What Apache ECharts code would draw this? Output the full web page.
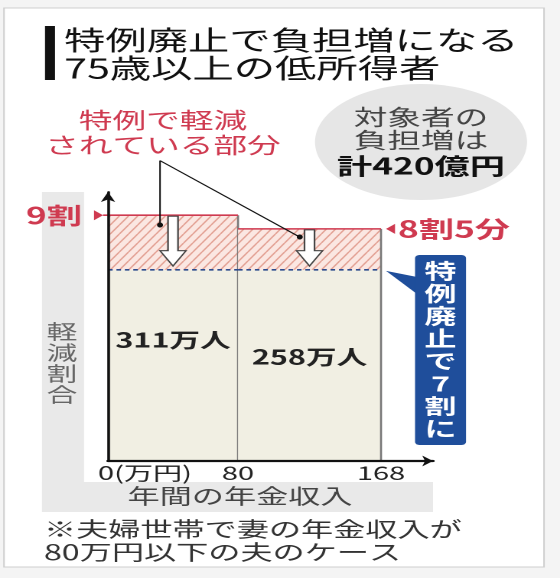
<!DOCTYPE html>
<html><head><meta charset="utf-8">
<script src="https://cdn.jsdelivr.net/npm/echarts@6/dist/echarts.min.js"></script>
<style>
html,body{margin:0;padding:0;background:#f4f4f4;overflow:hidden;}
#wrap{width:560px;height:578px;overflow:hidden;position:relative;}
#chart{width:366px;height:578px;transform:scaleX(1.5301);transform-origin:0 0;}
</style></head><body><div id="wrap"><div id="chart"></div></div>
<script>
// ---------------- data ----------------
const incomeEdges   = [0, 80, 168];          // 年間の年金収入 (万円)
const ratioBefore   = [0.9, 0.85];           // 特例による軽減割合
const ratioAfter    = [0.7, 0.7];            // 特例廃止後
const peopleLabels  = ['311万人', '258万人'];
const ratioLabels   = ['9割', '8割5分'];
const xTickValues   = [0, 80, 168];
const xTickLabels   = ['0(万円)', '80', '168'];
const titleLines    = ['特例廃止で負担増になる', '75歳以上の低所得者'];
const circleLines   = ['対象者の', '負担増は', '計420億円'];
const noteLines     = ['特例で軽減', 'されている部分'];
const calloutText   = '特例廃止で7割に';
const yAxisName     = '軽減割合';
const xAxisName     = '年間の年金収入';
const footnoteLines = ['※夫婦世帯で妻の年金収入が', '80万円以下の夫のケース'];

// ---------------- layout / style ----------------
const S = 560 / 366;              // horizontal stretch applied by CSS
const X = v => v / S;             // reference px -> unstretched px
const FF = '"Noto Sans CJK JP", "Noto Sans CJK SC", sans-serif';
const RED = '#cf3a50';
const BLUE = '#1f4e9b';
const LABEL_Y = [0.443, 0.381];

function makeHatch() {
  const w = 12, h = 18;
  const c = document.createElement('canvas');
  c.width = w; c.height = h;
  const g = c.getContext('2d');
  g.fillStyle = '#fbe7e2'; g.fillRect(0, 0, w, h);
  g.strokeStyle = '#e3a194'; g.lineWidth = 2.2;
  for (let k = 0; k <= 2; k++) {
    g.beginPath(); g.moveTo(w * k, 0); g.lineTo(w * k - w, h); g.stroke();
  }
  return c;
}
const hatch = makeHatch();

function txt(x, y, text, font, fill, align, extra) {
  return {
    type: 'text', x: x, y: y,
    style: Object.assign({
      text: text, font: font, fill: fill,
      align: align || 'center', textAlign: align || 'center',
      verticalAlign: 'middle', textVerticalAlign: 'middle'
    }, extra || {})
  };
}

const barData = incomeEdges.slice(0, -1).map((x0, i) =>
  [x0, incomeEdges[i + 1], ratioBefore[i], ratioAfter[i]]);

function renderBar(params, api) {
  const i = params.dataIndex;
  const x0 = api.value(0), x1 = api.value(1), r = api.value(2), r2 = api.value(3);
  const pBL = api.coord([x0, 0]);
  const pTR = api.coord([x1, r]);
  const pM = api.coord([x1, r2]);
  const left = pBL[0], right = pTR[0];
  const ch = [];
  ch.push({ type: 'rect', shape: { x: left, y: pM[1], width: right - left, height: pBL[1] - pM[1] },
            style: { fill: '#f1efe3' } });
  ch.push({ type: 'rect', shape: { x: left, y: pTR[1], width: right - left, height: pM[1] - pTR[1] },
            style: { fill: { image: hatch, repeat: 'repeat', scaleX: 0.5, scaleY: 0.5 } } });
  ch.push({ type: 'line', shape: { x1: right, y1: pTR[1], x2: right, y2: pBL[1] },
            style: { stroke: '#777', lineWidth: 1.3 } });
  ch.push({ type: 'line', shape: { x1: left, y1: pM[1], x2: right, y2: pM[1] },
            style: { stroke: '#2a4a8c', lineWidth: 1.6, lineDash: [3, 2.5] } });
  const redStart = i === 0 ? left - X(5) : left;
  ch.push({ type: 'line', shape: { x1: redStart, y1: pTR[1], x2: right, y2: pTR[1] },
            style: { stroke: RED, lineWidth: 1.6 } });
  // hollow down arrow
  const xc = api.coord([(x0 + x1) / 2, 0])[0];
  const yT = pTR[1] + 1;
  const yB = api.coord([0, 0.77])[1];
  const yP = api.coord([0, 0.714])[1];
  const hw = X(5), hh = X(13);
  ch.push({ type: 'polygon', shape: { points: [
      [xc - hw, yT], [xc + hw, yT], [xc + hw, yB], [xc + hh, yB], [xc, yP], [xc - hh, yB], [xc - hw, yB]] },
    style: { fill: '#fff', stroke: '#444', lineWidth: 1.1 } });
  // people label
  const pl = api.coord([(x0 + x1) / 2, LABEL_Y[i]]);
  ch.push(txt(pl[0], pl[1], peopleLabels[i], 'bold 20px ' + FF, '#222'));
  // ratio label
  const y = pTR[1];
  if (i === 0) {
    ch.push({ type: 'polygon', shape: { points: [[left - X(5), y], [left - X(14), y - 5], [left - X(14), y + 5]] },
              style: { fill: RED } });
    ch.push(txt(left - X(26), y, ratioLabels[i], 'bold 23px ' + FF, RED, 'right'));
  } else {
    ch.push({ type: 'polygon', shape: { points: [[right + X(5), y], [right + X(14), y - 5], [right + X(14), y + 5]] },
              style: { fill: RED } });
    ch.push(txt(right + X(17), y, ratioLabels[i], 'bold 23px ' + FF, RED, 'left'));
  }
  return { type: 'group', children: ch };
}

function renderOverlay(params, api) {
  const ch = [];
  // tick labels
  xTickValues.forEach((v, k) => {
    const p = api.coord([v, 0]);
    if (k === 0) ch.push(txt(p[0] - X(10), p[1] + 12, xTickLabels[k], '19px ' + FF, '#222', 'left'));
    else ch.push(txt(p[0], p[1] + 12, xTickLabels[k], '19px ' + FF, '#222', 'center'));
  });
  // leader lines from the note to the hatched areas
  const s0 = api.coord([32, 1.10]);
  const e1 = api.coord([32, 0.864]);
  const e2 = api.coord([118, 0.82]);
  [e1, e2].forEach(e => {
    ch.push({ type: 'line', shape: { x1: s0[0], y1: s0[1], x2: e[0], y2: e[1] },
              style: { stroke: '#111', lineWidth: 1 } });
    ch.push({ type: 'ellipse', shape: { cx: e[0], cy: e[1], rx: X(3), ry: 2.5 }, style: { fill: '#111' } });
  });
  // callout pointer + box
  const tip = api.coord([incomeEdges[incomeEdges.length - 1], ratioAfter[ratioAfter.length - 1]]);
  ch.push({ type: 'polygon', shape: { points: [[tip[0] + X(5), tip[1] + 1], [X(417), 277], [X(417), 294]] },
            style: { fill: BLUE } });
  ch.push({ type: 'rect', shape: { x: X(415), y: 255, width: X(51), height: 190, r: 3 },
            style: { fill: BLUE } });
  ch.push(txt(X(440.5), 350, calloutText.split('').join('\n'), 'bold 21px ' + FF, '#fff', 'center',
              { lineHeight: 22.5 }));
  return { type: 'group', children: ch };
}

const chart = echarts.init(document.getElementById('chart'), null, { devicePixelRatio: 2 });
chart.setOption({
  backgroundColor: '#f4f4f4',
  animation: false,
  grid: { left: X(108), right: 366 - X(433), top: 192, bottom: 117 },
  xAxis: {
    type: 'value', min: 0, max: 200, z: 6,
    axisLine: { show: true, symbol: ['none', 'arrow'], symbolSize: [8, 7], lineStyle: { color: '#111', width: 2.2 } },
    axisTick: { show: false }, axisLabel: { show: false }, splitLine: { show: false }
  },
  yAxis: {
    type: 'value', min: 0, max: 0.985, z: 6,
    axisLine: { show: true, symbol: ['none', 'arrow'], symbolSize: [7, 10], lineStyle: { color: '#111', width: 1.8 } },
    axisTick: { show: false }, axisLabel: { show: false }, splitLine: { show: false }
  },
  graphic: { elements: [
    { type: 'rect', z: -20, shape: { x: X(4), y: 8, width: X(540), height: 559 }, style: { fill: '#fff', stroke: '#cfcfcf', lineWidth: 1 } },
    { type: 'rect', z: -19, shape: { x: X(42), y: 192, width: X(42), height: 320 }, style: { fill: '#e9e9e9' } },
    { type: 'rect', z: -19, shape: { x: X(42), y: 482, width: X(391), height: 30 }, style: { fill: '#e9e9e9' } },
    { type: 'ellipse', z: -18, shape: { cx: X(421), cy: 142, rx: X(106), ry: 58 }, style: { fill: '#e6e6e6' } },
    { type: 'rect', shape: { x: X(45), y: 26, width: X(10), height: 54 }, style: { fill: '#111' } },
    txt(X(64), 40, titleLines[0], '27px ' + FF, '#111', 'left'),
    txt(X(64), 68, titleLines[1], '27px ' + FF, '#111', 'left'),
    txt(X(421), 117, circleLines[0], '22px ' + FF, '#444'),
    txt(X(421), 140, circleLines[1], '22px ' + FF, '#444'),
    txt(X(421), 166, circleLines[2], 'bold 23px ' + FF, '#111'),
    txt(X(163), 120, noteLines[0], '22px ' + FF, RED),
    txt(X(163), 145, noteLines[1], '22px ' + FF, RED),
    txt(X(62), 363, yAxisName.split('').join('\n'), '20px ' + FF, '#666', 'center', { lineHeight: 21 }),
    txt(X(240), 496, xAxisName, '21px ' + FF, '#444'),
    txt(X(44), 529, footnoteLines[0], '21px ' + FF, '#333', 'left'),
    txt(X(44), 552, footnoteLines[1], '21px ' + FF, '#333', 'left')
  ] },
  series: [
    { type: 'custom', coordinateSystem: 'cartesian2d', clip: false, z: 3,
      encode: { x: [0, 1], y: [2, 3] }, data: barData, renderItem: renderBar },
    { type: 'custom', coordinateSystem: 'cartesian2d', clip: false, z: 4,
      encode: { x: 0, y: 1 }, data: [[0, 0]], renderItem: renderOverlay }
  ]
});
</script></body></html>
